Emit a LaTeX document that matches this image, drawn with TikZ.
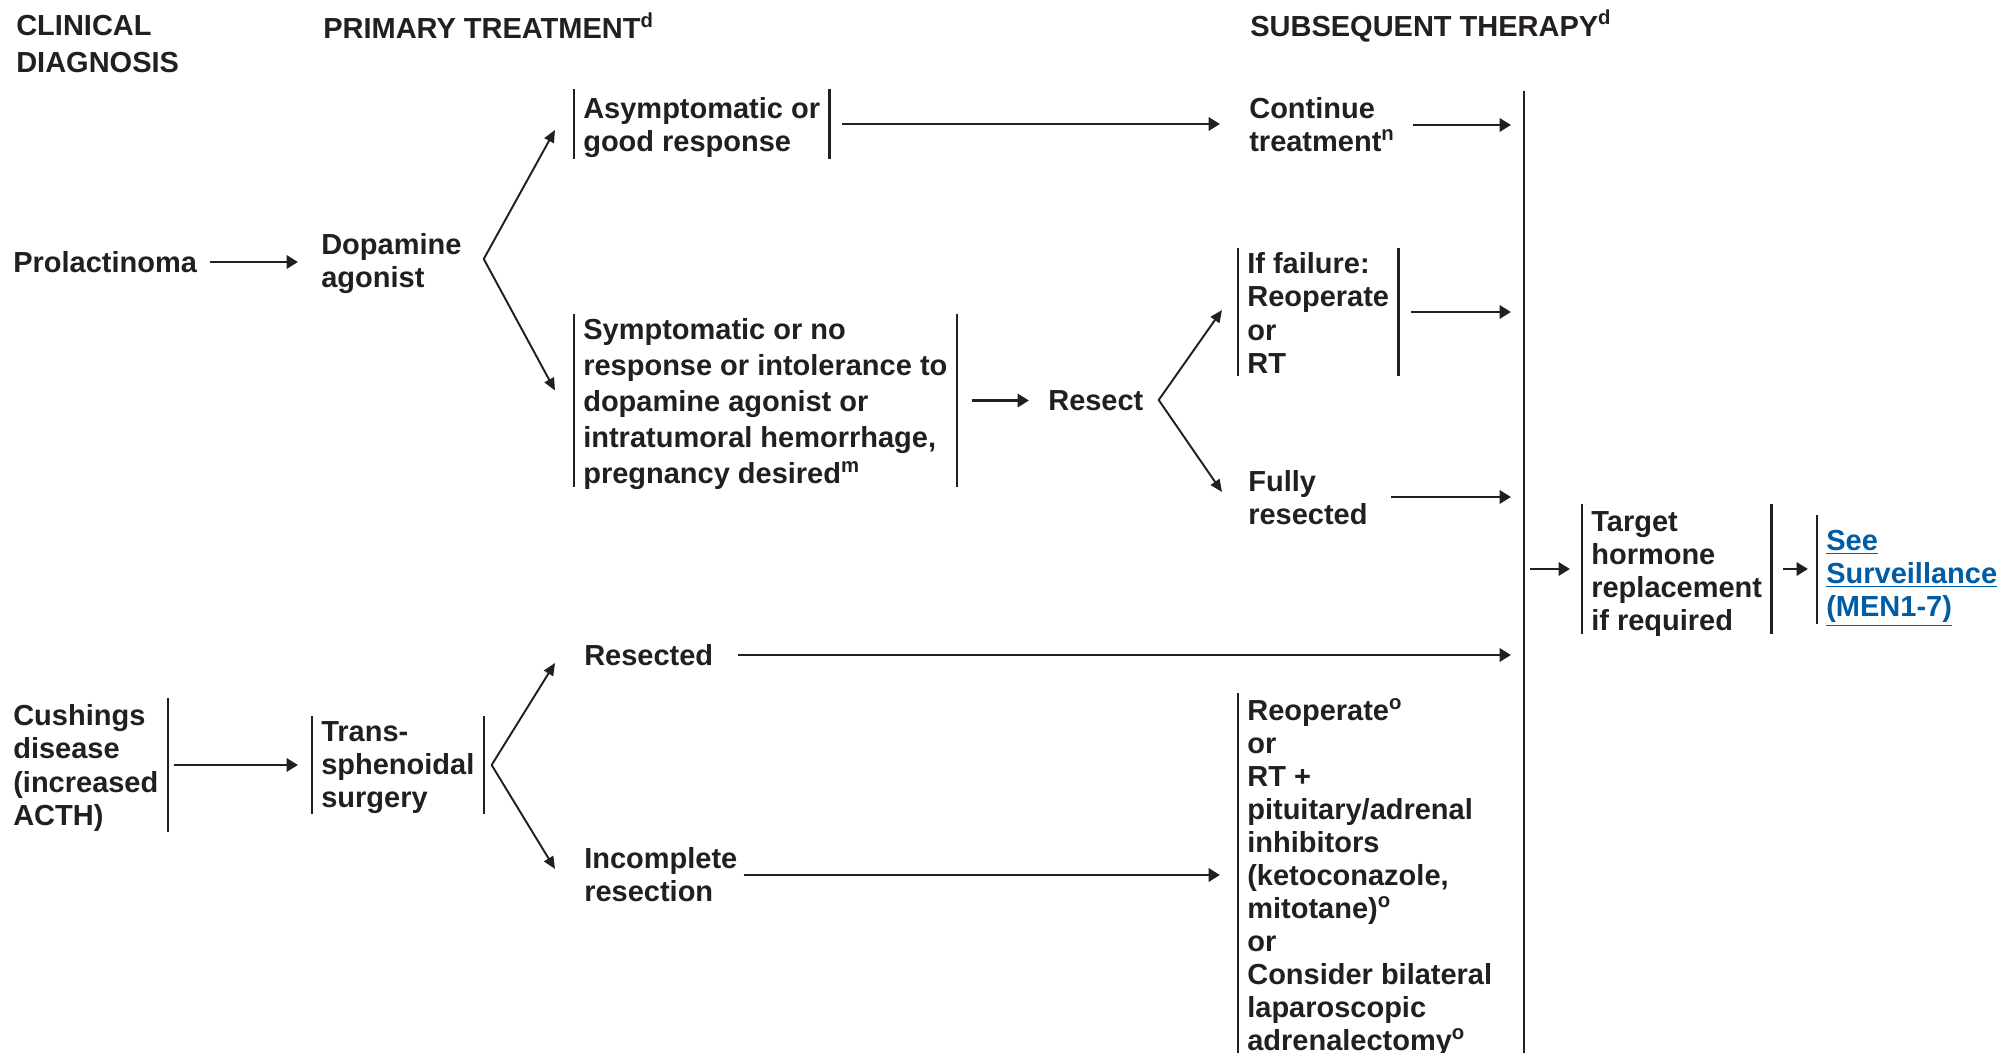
\documentclass[tikz,border=0pt]{standalone}
\usepackage{fontspec}
\setmainfont{Liberation Sans}
\usetikzlibrary{arrows.meta,calc}
\definecolor{ink}{HTML}{231F20}
\definecolor{linkblue}{HTML}{005CA3}
\begin{document}
\begin{tikzpicture}[x=0.02cm,y=-0.02cm,
  lbl/.style={font=\bfseries\fontsize{16.5}{18.8}\selectfont, text=ink, align=left,
              inner xsep=5.1pt, inner ysep=0pt, anchor=west},
  wide/.style={font=\bfseries\fontsize{16.5}{20.5}\selectfont},
  head/.style={font=\bfseries\fontsize{16.5}{21}\selectfont},
  bar/.style={draw=ink, line width=1.3pt},
  arr/.style={draw=ink, line width=1.6pt, -{Triangle[length=6.5pt,width=7.5pt]}},
  fork/.style={draw=ink, line width=1.1pt, line join=round,
               {Triangle[length=7pt,width=6pt]}-{Triangle[length=7pt,width=6pt]}}
]
\useasboundingbox (0,0) rectangle (2001,1053);

% column headings
\node[lbl, head] (clin) at (7,44) {CLINICAL\\DIAGNOSIS};
\node[lbl] (prim) at (314,26) {PRIMARY TREATMENT\textsuperscript{d}};
\node[lbl] (subs) at (1241,26) {SUBSEQUENT THERAPY\textsuperscript{d}};

% prolactinoma branch
\node[lbl] (prol) at (4,262) {Prolactinoma};
\node[lbl] (dop) at (312,264) {Dopamine\\agonist};
\node[lbl, inner ysep=2.6pt] (asym) at (574,128) {Asymptomatic or\\good response};
\node[lbl, wide, inner ysep=0.5pt] (sym) at (574,404.5)
  {Symptomatic or no\\response or intolerance to\\dopamine agonist or\\intratumoral hemorrhage,\\pregnancy desired\textsuperscript{m}};
\node[lbl] (cont) at (1240,125) {Continue\\treatment\textsuperscript{n}};
\node[lbl] (resect) at (1039,401) {Resect};
\node[lbl, inner ysep=2.3pt] (ifail) at (1238,313) {If failure:\\Reoperate\\or\\RT};
\node[lbl] (fully) at (1239,498) {Fully\\resected};

% cushings branch
\node[lbl, inner ysep=2.3pt] (cush) at (4,768) {Cushings\\disease\\(increased\\ACTH)};
\node[lbl, inner ysep=1.4pt] (trans) at (312,768) {Trans-\\sphenoidal\\surgery};
\node[lbl] (resected) at (575,655) {Resected};
\node[lbl] (incomp) at (575,875) {Incomplete\\resection};
\node[lbl, anchor=north west, inner ysep=4.6pt] (reop) at (1238,690)
  {Reoperate\textsuperscript{o}\\or\\RT +\\pituitary/adrenal\\inhibitors\\(ketoconazole,\\mitotane)\textsuperscript{o}\\or\\Consider bilateral\\laparoscopic\\adrenalectomy\textsuperscript{o}};

% common end
\node[lbl, inner ysep=1pt] (target) at (1582,574) {Target\\hormone\\replacement\\if required};
\node[lbl, text=linkblue, inner ysep=3.4pt] (see) at (1817,578.5)
  {\underline{See}\\\underline{Surveillance}\\\underline{(MEN1-7)}};

% collecting line
\coordinate (vtop) at (1524,91);
\coordinate (vbot) at (1524,1060);
\draw[bar, line width=1.4pt] (vtop) -- (vbot);

% side bars of the boxed texts (the bars sit a little higher than the text)
\foreach \n/\s in {asym/4,sym/4,ifail/1,trans/3,target/5}
  \draw[bar] ($(\n.north west)+(0,-\s)$) -- ($(\n.south west)+(0,-\s)$)
             ($(\n.north east)+(0,-\s)$) -- ($(\n.south east)+(0,-\s)$);
\draw[bar] ($(cush.north east)+(0,-3)$) -- ($(cush.south east)+(0,-3)$);
\draw[bar] ($(see.north west)+(0,-9)$) -- ($(see.south west)+(0,-9)$);
\draw[bar] ($(reop.north west)+(0,3)$) -- (reop.north west |- vbot);

% straight arrows
\draw[arr] ($(prol.east)+(4,0)$) -- ($(prol.east -| dop.west)+(-14,0)$);
\draw[arr] ($(asym.east)+(13,-4)$) -- ($(asym.east -| cont.west)+(-20,-4)$);
\draw[arr] ($(cont.east)+(9,0)$) -- ($(cont.east -| vtop)+(-13,0)$);
\draw[arr] ($(ifail.east)+(13,-1)$) -- ($(ifail.east -| vtop)+(-13,-1)$);
\draw[arr] ($(fully.east)+(14,-1)$) -- ($(fully.east -| vtop)+(-13,-1)$);
\draw[arr] ($(sym.east)+(15,-4)$) -- ($(sym.east -| resect.west)+(-10,-4)$);
\draw[arr] ($(resected.east)+(15,0)$) -- ($(resected.east -| vtop)+(-13,0)$);
\draw[arr] ($(cush.east)+(6,-3)$) -- ($(cush.east -| trans.west)+(-14,-3)$);
\draw[arr] ($(incomp.east)+(-3,0)$) -- ($(incomp.east -| reop.west)+(-18,0)$);
\draw[arr] ($(target.west -| vtop)+(6,-5)$) -- ($(target.west)+(-12,-5)$);
\draw[arr] ($(target.east)+(12,-5)$) -- ($(target.east -| see.west)+(-9,-5)$);

% branching arrows
\coordinate (f1) at ($(dop.east)+(13,-5)$);
\coordinate (f2) at ($(resect.east)+(6,-1)$);
\coordinate (f3) at ($(trans.east)+(8,-3)$);
\draw[fork] ($(asym.west)+(-19,2)$) -- (f1) -- ($(sym.west)+(-19,-14)$);
\draw[fork] ($(ifail.west)+(-16,-3)$) -- (f2) -- ($(fully.west)+(-17,-6)$);
\draw[fork] ($(resected.west)+(-20,8)$) -- (f3) -- ($(incomp.west)+(-20,-6)$);
\end{tikzpicture}
\end{document}
